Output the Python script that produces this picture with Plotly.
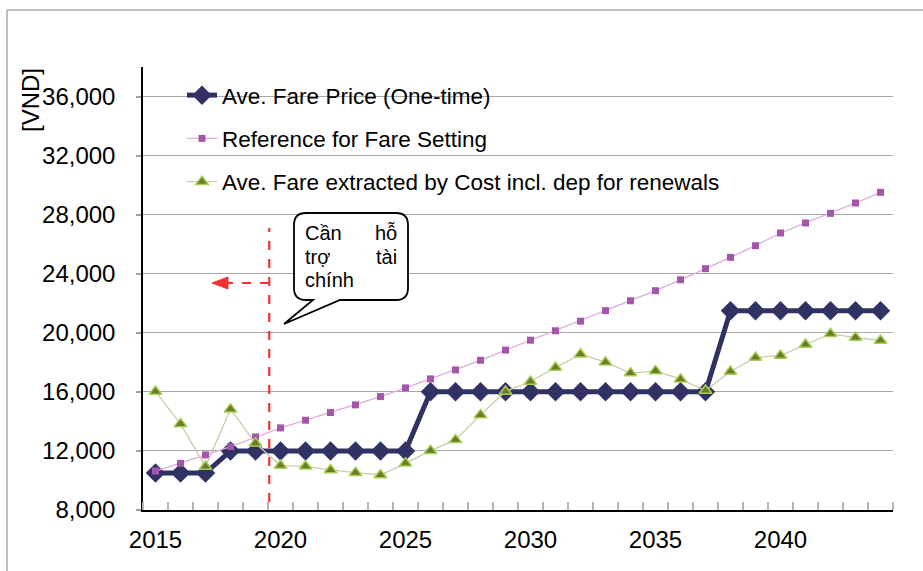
import plotly.graph_objects as go

years = list(range(2015, 2045))

fare_price = [10500, 10500, 10500,
              12000, 12000, 12000, 12000, 12000, 12000, 12000, 12000,
              16000, 16000, 16000, 16000, 16000, 16000, 16000, 16000, 16000, 16000, 16000, 16000,
              21500, 21500, 21500, 21500, 21500, 21500, 21500]

reference_fare = [10640, 11160, 11730, 12290, 12950, 13560, 14080, 14600, 15120, 15680,
                  16270, 16880, 17490, 18140, 18830, 19500, 20140, 20790, 21500, 22170,
                  22850, 23590, 24340, 25110, 25900, 26760, 27440, 28090, 28790, 29510]

cost_fare = [16020, 13830, 10940, 14830, 12520, 11010, 10960, 10710, 10530, 10370,
             11160, 12020, 12750, 14440, 16030, 16700, 17650, 18550, 18010, 17270,
             17420, 16860, 16090, 17380, 18330, 18460, 19210, 19930, 19680, 19480]

y_ticks = list(range(8000, 36001, 4000))
x_ticks = [2015, 2020, 2025, 2030, 2035, 2040]

names = ["Ave. Fare Price (One-time)",
         "Reference for Fare Setting",
         "Ave. Fare extracted by Cost incl. dep for renewals"]

FONT = "Liberation Sans, Arial, sans-serif"

# plot-area geometry (pixels) used to place decorations
L, R, T, B = 143, 893, 67, 510
W, H = 923, 571


def px(x):
    return (x - L) / (R - L)


def py(y):
    return (B - y) / (B - T)


fig = go.Figure()

fig.add_trace(go.Scatter(
    x=years, y=fare_price, name=names[0], mode="lines+markers",
    line=dict(color="#313264", width=5),
    marker=dict(symbol="diamond", size=15, color="#313264"),
    legendgroup="a"))

fig.add_trace(go.Scatter(
    x=years, y=reference_fare, name=names[1], mode="lines+markers",
    line=dict(color="#dcaadc", width=1.3),
    marker=dict(symbol="square", size=7, color="#a456aa"),
    legendgroup="b"))

fig.add_trace(go.Scatter(
    x=years, y=cost_fare, name=names[2], mode="lines+markers",
    line=dict(color="#c9cba9", width=1.3),
    marker=dict(symbol="triangle-up", size=11, color="#6b7b2a",
                line=dict(color="#a6cf52", width=1.5)),
    legendgroup="c"))

minor_vals = [y - 0.5 for y in years] + [years[-1] + 0.5]

fig.update_xaxes(
    range=[years[0] - 0.5, years[-1] + 0.5],
    tickmode="array", tickvals=x_ticks, ticktext=[str(v) for v in x_ticks],
    ticks="", showgrid=False, zeroline=False,
    showline=True, linecolor="black", linewidth=1.5,
    tickfont=dict(family=FONT, size=24, color="black"),
    ticklabelstandoff=7,
    minor=dict(tickmode="array", tickvals=minor_vals, ticks="inside",
               ticklen=8, tickcolor="#b4b4b4", tickwidth=1.5, showgrid=False),
)

fig.update_yaxes(
    range=[8000, 38000],
    tickmode="array", tickvals=y_ticks, tickformat=",d",
    ticks="outside", ticklen=5, tickcolor="#a0a0a0", tickwidth=1.5,
    showgrid=True, gridcolor="#a8a8a8", gridwidth=1.3, zeroline=False,
    showline=True, linecolor="black", linewidth=1.5,
    tickfont=dict(family=FONT, size=24, color="black"),
    ticklabelstandoff=16,
)

shapes = []
# outer frame (top and left edges)
shapes.append(dict(type="line", xref="paper", yref="paper",
                   x0=px(7), y0=py(10), x1=px(W + 5), y1=py(10),
                   line=dict(color="#a8a8a8", width=1.5), layer="below"))
shapes.append(dict(type="line", xref="paper", yref="paper",
                   x0=px(7), y0=py(10), x1=px(7), y1=py(H + 5),
                   line=dict(color="#a8a8a8", width=1.5), layer="below"))

# red dashed vertical line and arrow
split_x = 2019.55
shapes.append(dict(type="line", xref="x", yref="paper",
                   x0=split_x, x1=split_x, y0=py(502), y1=py(228),
                   line=dict(color="#ee3333", width=2.2, dash="dash")))
shapes.append(dict(type="line", xref="paper", yref="paper",
                   x0=px(269), x1=px(226), y0=py(283), y1=py(283),
                   line=dict(color="#ee3333", width=2, dash="dash")))
shapes.append(dict(type="path", xref="paper", yref="paper",
                   path=f"M {px(212)},{py(283)} L {px(228)},{py(277)} L {px(228)},{py(289)} Z",
                   fillcolor="#ee3333", line=dict(color="#ee3333", width=1)))

# callout bubble
pts = [
    ("M", 306, 213), ("H", 396, None), ("Q", (408, 213), (408, 225)), ("V", None, 288),
    ("Q", (408, 300), (396, 300)), ("H", 340, None), ("L", 284, 324), ("L", 313, 300),
    ("H", 306, None), ("Q", (294, 300), (294, 288)), ("V", None, 225),
    ("Q", (294, 213), (306, 213)),
]
path = ""
for p in pts:
    cmd = p[0]
    if cmd in ("M", "L"):
        path += f"{cmd} {px(p[1])},{py(p[2])} "
    elif cmd == "H":
        path += f"H {px(p[1])} "
    elif cmd == "V":
        path += f"V {py(p[2])} "
    elif cmd == "Q":
        (a, b), (c, d) = p[1], p[2]
        path += f"Q {px(a)},{py(b)} {px(c)},{py(d)} "
path += "Z"
shapes.append(dict(type="path", xref="paper", yref="paper", path=path,
                   fillcolor="white", line=dict(color="black", width=1.8)))

annotations = []
callout_words = [("Cần", "left", 303, 233), ("hỗ", "right", 399, 233),
                 ("trợ", "left", 303, 257), ("tài", "right", 399, 257),
                 ("chính", "left", 303, 280)]
for txt, anc, x, y in callout_words:
    annotations.append(dict(text=txt, xref="paper", yref="paper",
                            x=px(x), y=py(y), xanchor=anc, yanchor="middle",
                            showarrow=False,
                            font=dict(family=FONT, size=20, color="black")))

annotations.append(dict(text="[VND]", xref="paper", yref="paper",
                        x=px(30), y=py(100), xanchor="center", yanchor="middle",
                        textangle=-90, showarrow=False,
                        font=dict(family=FONT, size=24, color="black")))

fig.update_layout(
    width=W, height=H,
    margin=dict(l=L, r=W - R, t=T, b=H - B),
    paper_bgcolor="white", plot_bgcolor="white",
    font=dict(family=FONT, color="black"),
    showlegend=True,
    legend=dict(x=px(182), y=py(74), xanchor="left", yanchor="top",
                bgcolor="rgba(0,0,0,0)", borderwidth=0,
                traceorder="grouped", tracegroupgap=11,
                font=dict(family=FONT, size=22.5, color="black")),
    shapes=shapes,
    annotations=annotations,
)

fig.write_html("out.html")
